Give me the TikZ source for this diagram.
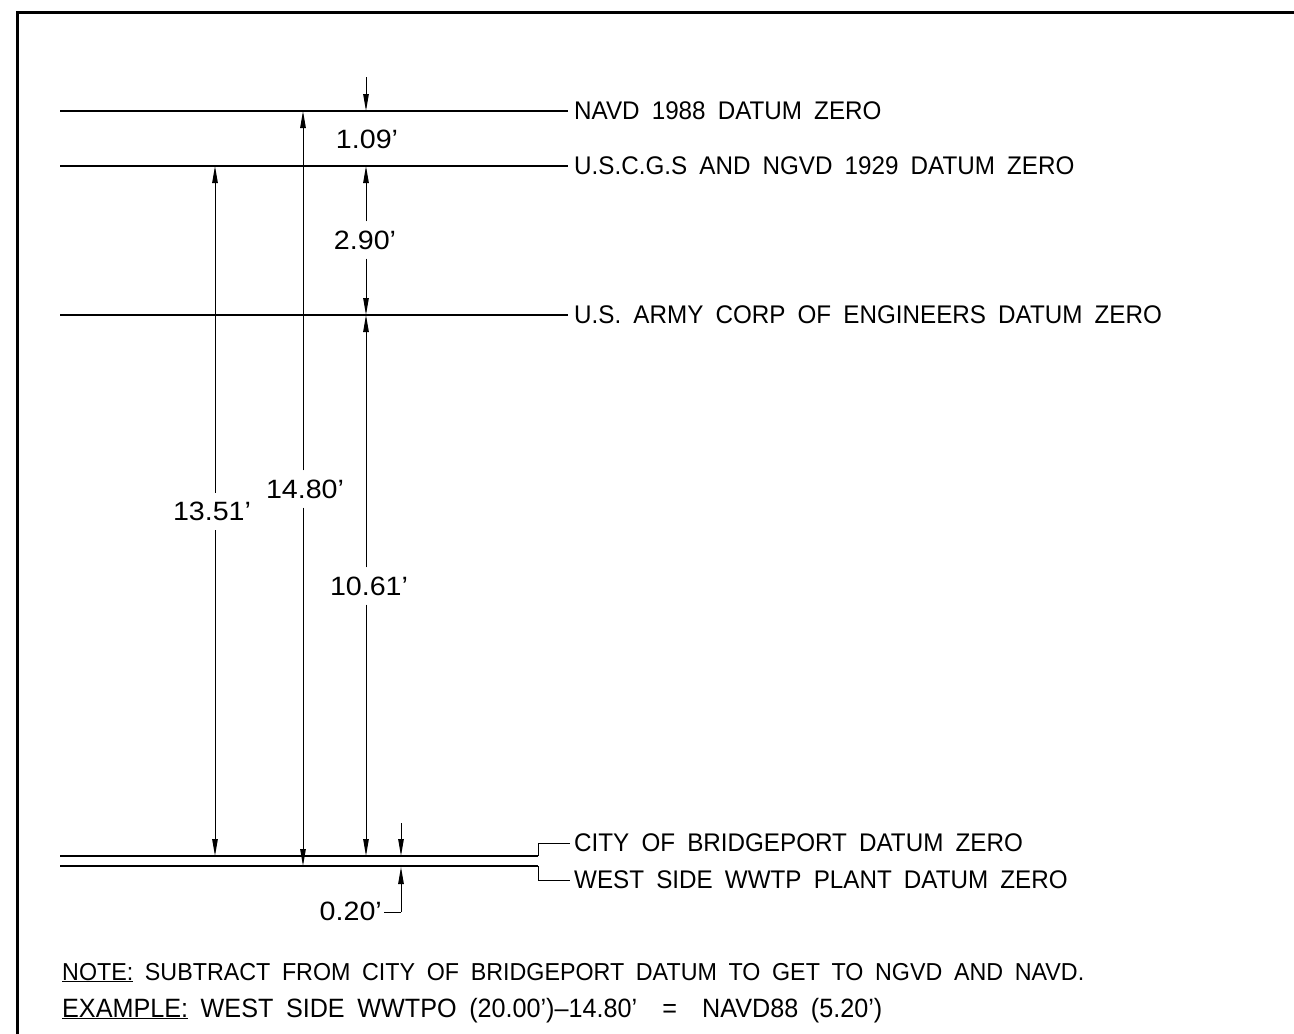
\documentclass[tikz,border=0pt]{standalone}
\usepackage{fontspec}
\setmainfont{Liberation Sans}
\newfontfamily\lblfam{Liberation Sans}[FakeStretch=0.95,WordSpace=1.8]
\newfontfamily\dimfam{Liberation Sans}[FakeStretch=1.08]
\newfontfamily\notefam{Liberation Sans}[FakeStretch=0.95,WordSpace=1.8]
\usetikzlibrary{arrows.meta}
\tikzset{
  datum/.style={line width=2pt},
  datumheavy/.style={line width=2.7pt},
  dimln/.style={line width=1pt},
  arr/.style={-{Triangle[length=17pt,width=5.5pt]}},
  lbl/.style={anchor=west, inner sep=0pt, font=\lblfam\fontsize{25.5}{25.5}\selectfont},
  dimtxt/.style={inner xsep=2pt, inner ysep=9pt, font=\dimfam\fontsize{26.5}{26.5}\selectfont},
  notetxt/.style={anchor=base west, inner sep=0pt, font=\notefam\fontsize{24.5}{24.5}\selectfont},
  exampletxt/.style={anchor=base west, inner sep=0pt, font=\notefam\fontsize{26.5}{26.5}\selectfont},
  frame/.style={line width=3pt}
}
\begin{document}
\begin{tikzpicture}[x=1pt,y=-1pt]
\useasboundingbox (0,0) rectangle (1294,1034);
% frame
\coordinate (fbl) at (17,1034);
\coordinate (ftl) at (17,12);
\coordinate (ftr) at (1294,12);
\draw[frame] (fbl) -- (ftl) -- (ftr);

% datum line end points
\coordinate (navdL) at (60,111);   \coordinate (navdR) at (568,111);
\coordinate (ngvdL) at (60,166);   \coordinate (ngvdR) at (568,166);
\coordinate (armyL) at (60,315);   \coordinate (armyR) at (568,315);
\coordinate (cityL) at (60,856);   \coordinate (cityK) at (538,856);
\coordinate (cityJ) at (538,843);  \coordinate (cityR) at (570,843);
\coordinate (westL) at (60,866);   \coordinate (westK) at (538,866);
\coordinate (westJ) at (538,880);  \coordinate (westR) at (570,880);

\draw[datum] (navdL) -- (navdR);
\draw[datum] (ngvdL) -- (ngvdR);
\draw[datum] (armyL) -- (armyR);
\draw[datum] (cityL) -- (cityK);
\draw[dimln] (cityK) -- (cityJ) -- (cityR);
\draw[datumheavy] (westL) -- (westK);
\draw[dimln] (westK) -- (westJ) -- (westR);

\node[lbl] (lnavd) at (574,111) {NAVD 1988 DATUM ZERO};
\node[lbl] (lngvd) at (574,166) {U.S.C.G.S AND NGVD 1929 DATUM ZERO};
\node[lbl] (larmy) at (574,315) {U.S. ARMY CORP OF ENGINEERS DATUM ZERO};
\node[lbl] (lcity) at (574,843) {CITY OF BRIDGEPORT DATUM ZERO};
\node[lbl] (lwest) at (574,880) {WEST SIDE WWTP PLANT DATUM ZERO};

% dimension end points
\coordinate (a1) at (215,166);  \coordinate (a2) at (215,856);
\coordinate (b1) at (303,111);  \coordinate (b2) at (303,866);
\coordinate (c0) at (366,77);   \coordinate (c1) at (366,111);
\coordinate (c2) at (366,166);  \coordinate (c3) at (366,315);
\coordinate (c4) at (366,856);
\coordinate (e0) at (401,823);  \coordinate (e1) at (401,856);
\coordinate (e2) at (401,867);  \coordinate (e3) at (401,912);
\coordinate (e4) at (384,912);

% dimension labels
\node[dimtxt] (d1351) at (212,511.5) {13.51’};
\node[dimtxt] (d1480) at (305,489) {14.80’};
\node[dimtxt] (d1061) at (369,586) {10.61’};
\node[dimtxt] (d290)  at (365,240) {2.90’};
\node[dimtxt] (d109)  at (367,139) {1.09’};
\node[dimtxt, anchor=east] (d020) at (384,911.5) {0.20’};

% 13.51
\draw[dimln,arr] (d1351.north -| a1) -- (a1);
\draw[dimln,arr] (d1351.south -| a2) -- (a2);
% 14.80
\draw[dimln,arr] (d1480.north -| b1) -- (b1);
\draw[dimln,arr] (d1480.south -| b2) -- (b2);
% 1.09
\draw[dimln,arr] (c0) -- (c1);
% 2.90
\draw[dimln,arr] (d290.north -| c2) -- (c2);
\draw[dimln,arr] (d290.south -| c3) -- (c3);
% 10.61
\draw[dimln,arr] (d1061.north -| c3) -- (c3);
\draw[dimln,arr] (d1061.south -| c4) -- (c4);
% 0.20
\draw[dimln,arr] (e0) -- (e1);
\draw[dimln,arr] (e3) -- (e2);
\draw[dimln] (e3) -- (e4);

% notes
\node[notetxt] (note1) at (62,980) {\underline{NOTE:} SUBTRACT FROM CITY OF BRIDGEPORT DATUM TO GET TO NGVD AND NAVD.};
\node[exampletxt] (note2) at (62,1017) {\underline{EXAMPLE:} WEST SIDE WWTPO (20.00’)–14.80’ \ = \ NAVD88 (5.20’)};
\end{tikzpicture}
\end{document}
